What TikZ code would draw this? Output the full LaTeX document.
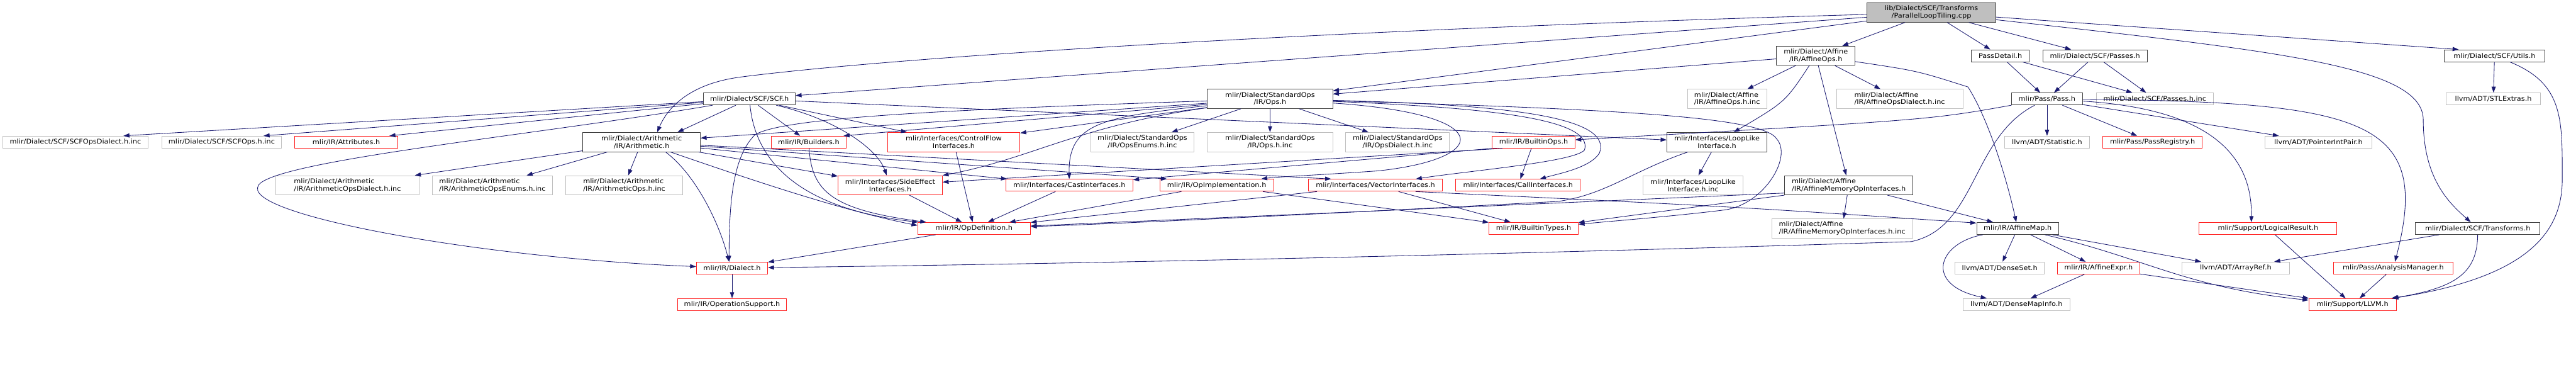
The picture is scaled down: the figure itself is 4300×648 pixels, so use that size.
\documentclass[tikz,border=0pt]{standalone}
\usepackage{fontspec}
\newfontfamily\dotfont[FakeStretch=1.1]{DejaVu Sans}
\usepackage{tikz}
\usetikzlibrary{arrows.meta}
\definecolor{edgeblue}{HTML}{191970}
\definecolor{nodegray}{HTML}{BFBFBF}
\definecolor{nodeblack}{HTML}{404040}
\definecolor{nodered}{HTML}{FF2020}

\begin{document}
\begin{tikzpicture}[x=1pt,y=-1pt,>={Triangle[length=10pt,width=7pt]},
  box/.style={rectangle,inner sep=2pt,line width=1pt,
              font=\dotfont\fontsize{10.8}{12.3}\selectfont},
  linked/.style={box,draw=nodeblack},
  cut/.style={box,draw=nodered},
  nodoc/.style={box,draw=nodegray},
  root/.style={box,draw=nodeblack,fill=nodegray},
  one/.style={minimum height=20pt},
  two/.style={minimum height=32pt,align=center},
  twol/.style={minimum height=32pt,align=left},
  dep/.style={->,draw=edgeblue,line width=0.9pt}]
  \useasboundingbox (0,0) rectangle (4300,648);

  % the source file and its direct includes
  \node[root,two,minimum width=215pt] (cpp) at (3224,21) {lib/Dialect/SCF/Transforms\\/ParallelLoopTiling.cpp};
  \node[linked,two,minimum width=131pt] (affops) at (3031,93) {mlir/Dialect/Affine\\/IR/AffineOps.h};
  \node[linked,one,minimum width=96pt] (passdetail) at (3339,93) {PassDetail.h};
  \node[linked,one,minimum width=174pt] (scfpasses) at (3497,93) {mlir/Dialect/SCF/Passes.h};
  \node[linked,one,minimum width=167pt] (utils) at (4164,93) {mlir/Dialect/SCF/Utils.h};
  \node[linked,one,minimum width=153pt] (scf) at (1251,165) {mlir/Dialect/SCF/SCF.h};
  \node[linked,two,minimum width=209pt] (stdops) at (2120,165) {mlir/Dialect/StandardOps\\/IR/Ops.h};
  \node[nodoc,twol,minimum width=132pt] (affopsinc) at (2883,165) {mlir/Dialect/Affine\\/IR/AffineOps.h.inc};
  \node[nodoc,twol,minimum width=211pt] (affdialinc) at (3171,165) {mlir/Dialect/Affine\\/IR/AffineOpsDialect.h.inc};
  \node[linked,one,minimum width=118pt] (pass) at (3417,165) {mlir/Pass/Pass.h};
  \node[nodoc,one,minimum width=195pt] (passesinc) at (3597,165) {mlir/Dialect/SCF/Passes.h.inc};
  \node[nodoc,one,minimum width=158pt] (stlextras) at (4162,165) {llvm/ADT/STLExtras.h};

  % second row
  \node[nodoc,one,minimum width=243pt] (scfdial) at (126,237) {mlir/Dialect/SCF/SCFOpsDialect.h.inc};
  \node[nodoc,one,minimum width=200pt] (scfopsinc) at (370,237) {mlir/Dialect/SCF/SCFOps.h.inc};
  \node[cut,one,minimum width=172pt] (attrs) at (578,237) {mlir/IR/Attributes.h};
  \node[linked,two,minimum width=196pt] (arith) at (1071,237) {mlir/Dialect/Arithmetic\\/IR/Arithmetic.h};
  \node[cut,one,minimum width=125pt] (builders) at (1350,237) {mlir/IR/Builders.h};
  \node[cut,two,minimum width=221pt] (cfi) at (1592,237) {mlir/Interfaces/ControlFlow\\Interfaces.h};
  \node[nodoc,two,minimum width=173pt] (opsenums) at (1907,237) {mlir/Dialect/StandardOps\\/IR/OpsEnums.h.inc};
  \node[nodoc,two,minimum width=209pt] (opsinc) at (2120,237) {mlir/Dialect/StandardOps\\/IR/Ops.h.inc};
  \node[nodoc,two,minimum width=173pt] (opsdialinc) at (2333,237) {mlir/Dialect/StandardOps\\/IR/OpsDialect.h.inc};
  \node[cut,one,minimum width=138pt] (builtinops) at (2560,237) {mlir/IR/BuiltinOps.h};
  \node[linked,two,minimum width=167pt] (looplike) at (2866,237) {mlir/Interfaces/LoopLike\\Interface.h};
  \node[nodoc,one,minimum width=141pt] (statistic) at (3417,237) {llvm/ADT/Statistic.h};
  \node[cut,one,minimum width=166pt] (passregistry) at (3593,237) {mlir/Pass/PassRegistry.h};
  \node[nodoc,one,minimum width=178pt] (pointerint) at (3870,237) {llvm/ADT/PointerIntPair.h};

  % third row
  \node[nodoc,twol,minimum width=239pt] (arithdial) at (580,309) {mlir/Dialect/Arithmetic\\/IR/ArithmeticOpsDialect.h.inc};
  \node[nodoc,twol,minimum width=201pt] (arithenums) at (822,309) {mlir/Dialect/Arithmetic\\/IR/ArithmeticOpsEnums.h.inc};
  \node[nodoc,twol,minimum width=196pt] (arithopsinc) at (1042,309) {mlir/Dialect/Arithmetic\\/IR/ArithmeticOps.h.inc};
  \node[cut,two,minimum width=174pt] (sideeffect) at (1486,309) {mlir/Interfaces/SideEffect\\Interfaces.h};
  \node[cut,one,minimum width=212pt] (cast) at (1785,309) {mlir/Interfaces/CastInterfaces.h};
  \node[cut,one,minimum width=190pt] (opimpl) at (2031,309) {mlir/IR/OpImplementation.h};
  \node[cut,one,minimum width=223pt] (vector) at (2296,309) {mlir/Interfaces/VectorInterfaces.h};
  \node[cut,one,minimum width=208pt] (call) at (2534,309) {mlir/Interfaces/CallInterfaces.h};
  \node[nodoc,two,minimum width=166pt] (looplikeinc) at (2826,309) {mlir/Interfaces/LoopLike\\Interface.h.inc};
  \node[linked,twol,minimum width=214pt] (affmem) at (3086,309) {mlir/Dialect/Affine\\/IR/AffineMemoryOpInterfaces.h};

  % fourth row
  \node[cut,one,minimum width=188pt] (opdef) at (1626,381) {mlir/IR/OpDefinition.h};
  \node[cut,one,minimum width=149pt] (builtintypes) at (2560,381) {mlir/IR/BuiltinTypes.h};
  \node[nodoc,twol,minimum width=235pt] (affmeminc) at (3075,381) {mlir/Dialect/Affine\\/IR/AffineMemoryOpInterfaces.h.inc};
  \node[linked,one,minimum width=137pt] (affinemap) at (3368,381) {mlir/IR/AffineMap.h};
  \node[cut,one,minimum width=230pt] (logical) at (3786,381) {mlir/Support/LogicalResult.h};
  \node[linked,one,minimum width=208pt] (transforms) at (4136,381) {mlir/Dialect/SCF/Transforms.h};

  % bottom rows
  \node[cut,one,minimum width=119pt] (dialect) at (1222,447) {mlir/IR/Dialect.h};
  \node[nodoc,one,minimum width=149pt] (denseset) at (3338,447) {llvm/ADT/DenseSet.h};
  \node[cut,one,minimum width=137pt] (affexpr) at (3503,447) {mlir/IR/AffineExpr.h};
  \node[nodoc,one,minimum width=180pt] (arrayref) at (3732,447) {llvm/ADT/ArrayRef.h};
  \node[cut,one,minimum width=200pt] (analysis) at (3995,447) {mlir/Pass/AnalysisManager.h};
  \node[cut,one,minimum width=182pt] (opsupport) at (1222,508) {mlir/IR/OperationSupport.h};
  \node[nodoc,one,minimum width=178pt] (densemapinfo) at (3366,508) {llvm/ADT/DenseMapInfo.h};
  \node[cut,one,minimum width=146pt] (llvm) at (3927,508) {mlir/Support/LLVM.h};

  % includes of the source file
  \draw[dep] (cpp) .. controls (2200,50) and (1500,95) .. (1240,128)
             .. controls (1140,140) and (1110,190) .. ([xshift=26pt]arith.north);
  \draw[dep] (cpp) -- (scf);
  \draw[dep] (cpp) -- (stdops);
  \draw[dep] (cpp) -- (affops);
  \draw[dep] (cpp) -- (passdetail);
  \draw[dep] (cpp) -- (scfpasses);
  \draw[dep] (cpp) -- ([xshift=-60pt]utils.north);
  \draw[dep] (cpp) .. controls (3800,85) and (4045,110) .. (4045,200)
             .. controls (4045,300) and (4090,340) .. (transforms);

  % SCF.h
  \draw[dep] (scf) -- ([xshift=80pt]scfdial.north);
  \draw[dep] (scf) -- ([xshift=70pt]scfopsinc.north);
  \draw[dep] (scf) -- ([xshift=72pt]attrs.north);
  \draw[dep] (scf) .. controls (900,225) and (430,270) .. (430,313)
             .. controls (420,360) and (800,430) .. (dialect);
  \draw[dep] (scf) -- ([xshift=60pt]arith.north);
  \draw[dep] (scf) -- (builders);
  \draw[dep] (scf) .. controls (1262,280) and (1350,350) .. (opdef);
  \draw[dep] (scf) .. controls (1400,200) and (1465,250) .. (sideeffect);
  \draw[dep] (scf) -- (cfi);
  \draw[dep] (scf) -- (looplike);

  % Arithmetic.h
  \draw[dep] (arith) -- (arithdial);
  \draw[dep] (arith) -- (arithenums);
  \draw[dep] (arith) -- (arithopsinc);
  \draw[dep] ([xshift=40pt]arith.south) .. controls (1160,290) and (1200,370) .. ([xshift=-5pt]dialect.north);
  \draw[dep] (arith) .. controls (1240,295) and (1400,350) .. ([yshift=5pt]opdef.west);
  \draw[dep] (arith) -- (sideeffect);
  \draw[dep] (arith) -- (cast);
  \draw[dep] (arith) -- ([xshift=-83pt]opimpl.north);
  \draw[dep] (arith) -- ([xshift=-74pt]vector.north);

  % StandardOps/IR/Ops.h
  \draw[dep] (stdops) -- (opsenums);
  \draw[dep] (stdops) -- (opsinc);
  \draw[dep] (stdops) -- (opsdialinc);
  \draw[dep] (stdops) -- (arith);
  \draw[dep] (stdops) -- ([xshift=-5pt]builders.north east);
  \draw[dep] (stdops) -- (cfi);
  \draw[dep] (stdops) .. controls (1800,210) and (1720,265) .. (sideeffect);
  \draw[dep] (stdops) .. controls (1840,195) and (1783,205) .. (cast);
  \draw[dep] (stdops) .. controls (1500,185) and (1300,200) .. (1260,225)
             .. controls (1225,260) and (1217,330) .. ([xshift=-5pt]dialect.north);
  \draw[dep] (stdops) .. controls (2500,190) and (2490,265) .. (2300,285)
             .. controls (2200,292) and (2130,295) .. (opimpl);
  \draw[dep] (stdops) .. controls (2500,180) and (2660,200) .. (2645,250)
             .. controls (2630,270) and (2450,285) .. (vector);
  \draw[dep] (stdops) .. controls (2550,175) and (2690,200) .. (2670,255)
             .. controls (2655,280) and (2600,290) .. (call);
  \draw[dep] (stdops) .. controls (2700,182) and (2945,195) .. (2966,232)
             .. controls (2992,262) and (2945,340) .. (2880,350)
             .. controls (2800,360) and (2700,368) .. (builtintypes);

  % BuiltinOps.h
  \draw[dep] (builtinops) -- (call);
  \draw[dep] (builtinops.south west) -- (cast);
  \draw[dep] ([xshift=-52pt]builtinops.south) -- (sideeffect);

  % interfaces
  \draw[dep] (builders) .. controls (1355,320) and (1390,350) .. (opdef);
  \draw[dep] (cfi) -- (opdef);
  \draw[dep] (sideeffect) -- (opdef);
  \draw[dep] (cast) -- (opdef);
  \draw[dep] (opimpl) -- (opdef);
  \draw[dep] (opimpl) -- (builtintypes);
  \draw[dep] (vector) -- (opdef);
  \draw[dep] (vector) -- (builtintypes);
  \draw[dep] ([xshift=67pt]vector.south) .. controls (2900,345) .. ([yshift=9pt]affinemap.west);
  \draw[dep] (opdef) -- (dialect);
  \draw[dep] (dialect) -- (opsupport);

  % Affine dialect
  \draw[dep] (affops) -- (stdops);
  \draw[dep] (affops) -- (affopsinc);
  \draw[dep] (affops) -- (affdialinc);
  \draw[dep] (affops) .. controls (2980,170) .. (looplike);
  \draw[dep] (affops) -- (affmem);
  \draw[dep] (affops) .. controls (3200,118) .. (3285,145)
             .. controls (3320,200) and (3350,300) .. (affinemap);
  \draw[dep] (affmem) -- (affmeminc);
  \draw[dep] ([yshift=-13pt]affmem.west) -- (opdef);
  \draw[dep] (affmem.south west) -- (builtintypes);
  \draw[dep] (affmem) -- (affinemap);
  \draw[dep] (looplike) -- (looplikeinc);
  \draw[dep] (looplike) .. controls (2725,285) and (2680,325) .. (2600,336)
             .. controls (2300,352) and (1900,372) .. (opdef);

  % passes
  \draw[dep] (passdetail) -- (pass);
  \draw[dep] (passdetail) -- (passesinc);
  \draw[dep] (scfpasses) -- (pass);
  \draw[dep] (scfpasses) -- (passesinc);
  \draw[dep] (pass) -- (statistic);
  \draw[dep] (pass) -- (passregistry);
  \draw[dep] (pass) -- (pointerint);
  \draw[dep] (pass) .. controls (3660,180) and (3760,240) .. ([xshift=-28pt]logical.north);
  \draw[dep] (pass) .. controls (3950,170) and (4060,200) .. (analysis);
  \draw[dep] (pass.south west) .. controls (3220,200) .. (builtinops);
  \draw[dep] (pass) .. controls (3290,230) and (3300,380) .. (3190,403)
             .. controls (2500,425) and (1800,440) .. (dialect);

  % SCF utils and transforms
  \draw[dep] (utils) -- (stlextras);
  \draw[dep] (utils) .. controls (4280,140) and (4277,200) .. (4277,300)
             .. controls (4277,400) and (4200,465) .. (llvm);
  \draw[dep] (transforms) -- (arrayref);
  \draw[dep] (transforms) .. controls (4135,455) and (4100,480) .. (llvm);

  % AffineMap.h and support headers
  \draw[dep] (affinemap) -- (denseset);
  \draw[dep] (affinemap) -- (affexpr);
  \draw[dep] (affinemap) -- (arrayref);
  \draw[dep] (affinemap) .. controls (3580,430) and (3650,480) .. (llvm);
  \draw[dep] (affinemap) .. controls (3235,405) and (3210,475) .. (densemapinfo);
  \draw[dep] (affexpr) -- (densemapinfo);
  \draw[dep] (affexpr) -- (llvm);
  \draw[dep] (logical) -- (llvm);
  \draw[dep] (analysis) -- (llvm);
\end{tikzpicture}
\end{document}
